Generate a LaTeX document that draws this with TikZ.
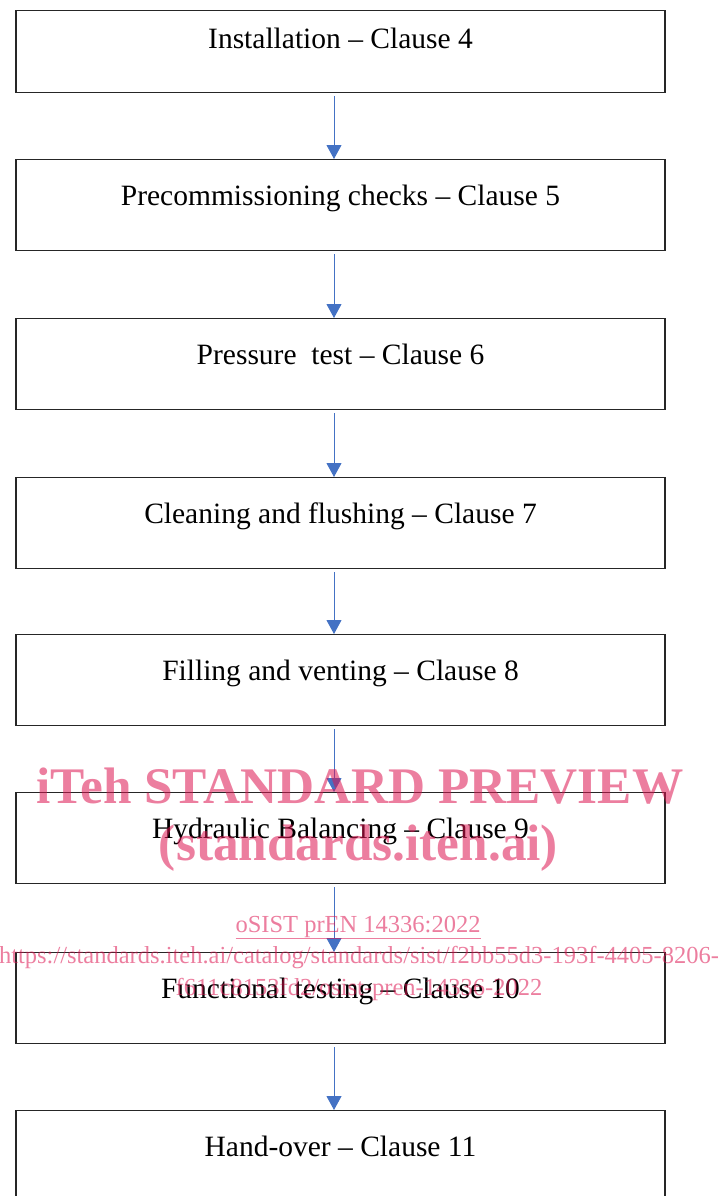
\documentclass[tikz,border=0pt]{standalone}
\usepackage{fontspec}
\setmainfont{Liberation Serif}
\usetikzlibrary{arrows.meta}
\definecolor{flowblue}{RGB}{68,114,196}
\definecolor{markpink}{RGB}{220,20,80}
\tikzset{
  stepbox/.style={draw=black!85,line width=1.1pt,anchor=north,minimum width=649pt,
    inner ysep=0pt,text height=46pt,text depth=45pt,font=\fontsize{29.5}{35}\selectfont},
  flow/.style={flowblue,line width=1pt,-{Triangle[width=15pt,length=14pt]}},
  markbig/.style={markpink,opacity=0.55,anchor=base,inner sep=0pt,font=\fontsize{51.3}{57}\bfseries},
  marksmall/.style={markpink,opacity=0.55,anchor=base,inner sep=0pt,font=\fontsize{24.5}{30}\selectfont}
}
\begin{document}
\begin{tikzpicture}[x=1pt,y=-1pt]
  \useasboundingbox (0,0) rectangle (719,1196);
  \clip (0,0) rectangle (719,1196);
  % steps
  \node[stepbox,text height=38pt,text depth=44pt] (install) at (340.5,10) {Installation -- Clause 4};
  \node[stepbox] (precomm) at (340.5,159) {Precommissioning checks -- Clause 5};
  \node[stepbox] (pressure) at (340.5,318) {Pressure\ \ test -- Clause 6};
  \node[stepbox] (cleaning) at (340.5,477) {Cleaning and flushing -- Clause 7};
  \node[stepbox] (filling) at (340.5,634) {Filling and venting -- Clause 8};
  \node[stepbox] (balancing) at (340.5,792) {Hydraulic Balancing -- Clause 9};
  \node[stepbox] (functional) at (340.5,952) {Functional testing -- Clause 10};
  \node[stepbox] (handover) at (340.5,1110) {Hand-over -- Clause 11};
  % arrows
  \draw[flow] ([xshift=-6.5pt,yshift=-3pt]install.south) -- ([xshift=-6.5pt]precomm.north);
  \draw[flow] ([xshift=-6.5pt,yshift=-3pt]precomm.south) -- ([xshift=-6.5pt]pressure.north);
  \draw[flow] ([xshift=-6.5pt,yshift=-3pt]pressure.south) -- ([xshift=-6.5pt]cleaning.north);
  \draw[flow] ([xshift=-6.5pt,yshift=-3pt]cleaning.south) -- ([xshift=-6.5pt]filling.north);
  \draw[flow] ([xshift=-6.5pt,yshift=-3pt]filling.south) -- ([xshift=-6.5pt]balancing.north);
  \draw[flow] ([xshift=-6.5pt,yshift=-3pt]balancing.south) -- ([xshift=-6.5pt]functional.north);
  \draw[flow] ([xshift=-6.5pt,yshift=-3pt]functional.south) -- ([xshift=-6.5pt]handover.north);
  % watermark
  \node[markbig] (preview) at (360,803) {iTeh STANDARD PREVIEW};
  \node[markbig] (site) at (358.5,860) {(standards.iteh.ai)};
  \node[marksmall] (docref) at (358,932) {\underline{oSIST prEN 14336:2022}};
  \node[marksmall] (url) at (359,963) {https://standards.iteh.ai/catalog/standards/sist/f2bb55d3-193f-4405-8206-};
  \node[marksmall] (urltail) at (359,995) {f611c8153fd2/osist-pren-14336-2022};
\end{tikzpicture}
\end{document}
